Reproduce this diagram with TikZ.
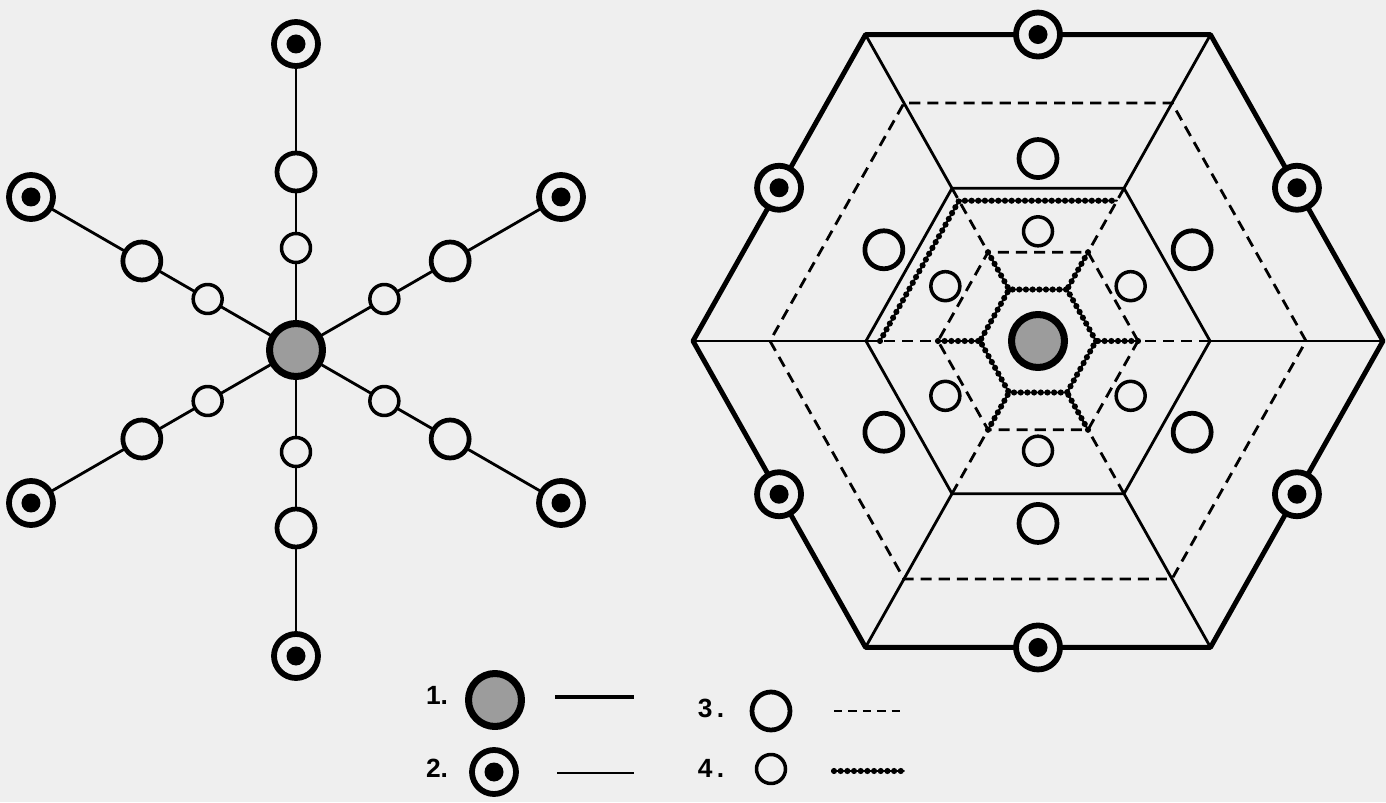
\documentclass[tikz,border=0pt]{standalone}
\usepackage{fontspec}
\setmainfont{Liberation Sans}
\usepackage{tikz}
\definecolor{paper}{HTML}{EFEFEF}
\definecolor{shade}{HTML}{9C9C9C}
\tikzset{
  every picture/.style={
    line join=round,
    line cap=round,
  },
  % settlement orders, 1 = central place ... 4 = hamlet
  hub/.style={circle, draw, line width=4pt, fill=shade, minimum size=1.06cm, inner sep=0pt},
  market/.style={circle, draw, line width=3.3pt, fill=paper, minimum size=0.88cm, inner sep=0pt,
    path picture={\fill[black] (path picture bounding box.center) circle (0.19cm);}},
  village/.style={circle, draw, line width=2.7pt, fill=paper, minimum size=0.76cm, inner sep=0pt},
  hamlet/.style={circle, draw, line width=2pt, fill=paper, minimum size=0.58cm, inner sep=0pt},
  % route kinds
  rim/.style={line width=2.8pt},
  road/.style={line width=1.6pt},
  dashroute/.style={line width=1.6pt, line cap=butt, dash pattern=on 6.3pt off 4pt},
  chain/.style={line width=1.1pt, postaction={draw, line width=3.5pt, line cap=round, dash pattern=on 0pt off 3.8pt}},
  keylabel/.style={font=\bfseries\fontsize{15}{17}\selectfont, inner sep=0pt},
}

\begin{document}
\begin{tikzpicture}[x=0.02cm, y=0.02cm]
\fill[paper] (0,0) rectangle (1386,802);
\useasboundingbox (0,0) rectangle (1386,802);

% left: the star of routes out of the central place
\begin{scope}[shift={(296,452)}]
  \node[hub] (c0) at (0,0) {};
  \foreach \k in {0,...,5} {
    \node[hamlet] (lc\k) at (30+\k*60:102) {};
    \node[village] (lb\k) at (30+\k*60:178) {};
    \node[market] (la\k) at (30+\k*60:306) {};
    \draw[road] (c0) -- (lc\k) -- (lb\k) -- (la\k);
  }
\end{scope}

% right: nested hexagonal market areas
\begin{scope}[shift={(1038,461)}, yscale=1.025]
  \foreach \k in {0,...,5} {
    \coordinate (o\k) at (\k*60:345);
    \coordinate (m\k) at (\k*60:172);
    \coordinate (d\k) at (\k*60:268);
    \coordinate (i\k) at (\k*60:100);
    \coordinate (h\k) at (\k*60:58);
  }
  \coordinate (p0) at (180:158);
  \coordinate (p1) at (120:158);
  \coordinate (p2) at (60:158);
  \draw[rim] (o0) -- (o1) -- (o2) -- (o3) -- (o4) -- (o5) -- cycle;
  \draw[road] (m0) -- (m1) -- (m2) -- (m3) -- (m4) -- (m5) -- cycle;
  \draw[dashroute] (d0) -- (d1) -- (d2) -- (d3) -- (d4) -- (d5) -- cycle;
  \draw[dashroute] (i0) -- (i1) -- (i2) -- (i3) -- (i4) -- (i5) -- cycle;
  \draw[chain] (h0) -- (h1) -- (h2) -- (h3) -- (h4) -- (h5) -- cycle;
  \draw[chain] (p0) -- (p1) -- (p2);
  \foreach \k in {0,...,5} {
    \draw[road] (o\k) -- (m\k);
    \draw[dashroute] (m\k) -- (i\k);
    \draw[chain] (i\k) -- (h\k);
  }
  \node[hub] (r0) at (0,0) {};
  \foreach \k in {0,...,5} {
    \node[market] (ra\k) at (30+\k*60:299) {};
    \node[village] (rb\k) at (30+\k*60:178) {};
    \node[hamlet] (rc\k) at (30+\k*60:107) {};
  }
\end{scope}

% key
\node[keylabel] (k1) at (437,107) {1.};
\node[hub] (s1) at (495,102) {};
\coordinate (l1a) at (555,105);
\coordinate (l1b) at (634,105);
\draw[rim, line cap=butt] (l1a) -- (l1b);

\node[keylabel] (k2) at (437,34) {2.};
\node[market] (s2) at (494,30) {};
\coordinate (l2a) at (557,29);
\coordinate (l2b) at (634,29);
\draw[road, line cap=butt] (l2a) -- (l2b);

\node[keylabel] (k3) at (711,94) {3\,.};
\node[village] (s3) at (771,91) {};
\coordinate (l3a) at (834,91);
\coordinate (l3b) at (905,91);
\draw[dashroute, dash pattern=on 4.8pt off 3.4pt] (l3a) -- (l3b);

\node[keylabel] (k4) at (711,34) {4\,.};
\node[hamlet] (s4) at (771,33) {};
\coordinate (l4a) at (834,31);
\coordinate (l4b) at (904,31);
\draw[chain] (l4a) -- (l4b);
\end{tikzpicture}
\end{document}
